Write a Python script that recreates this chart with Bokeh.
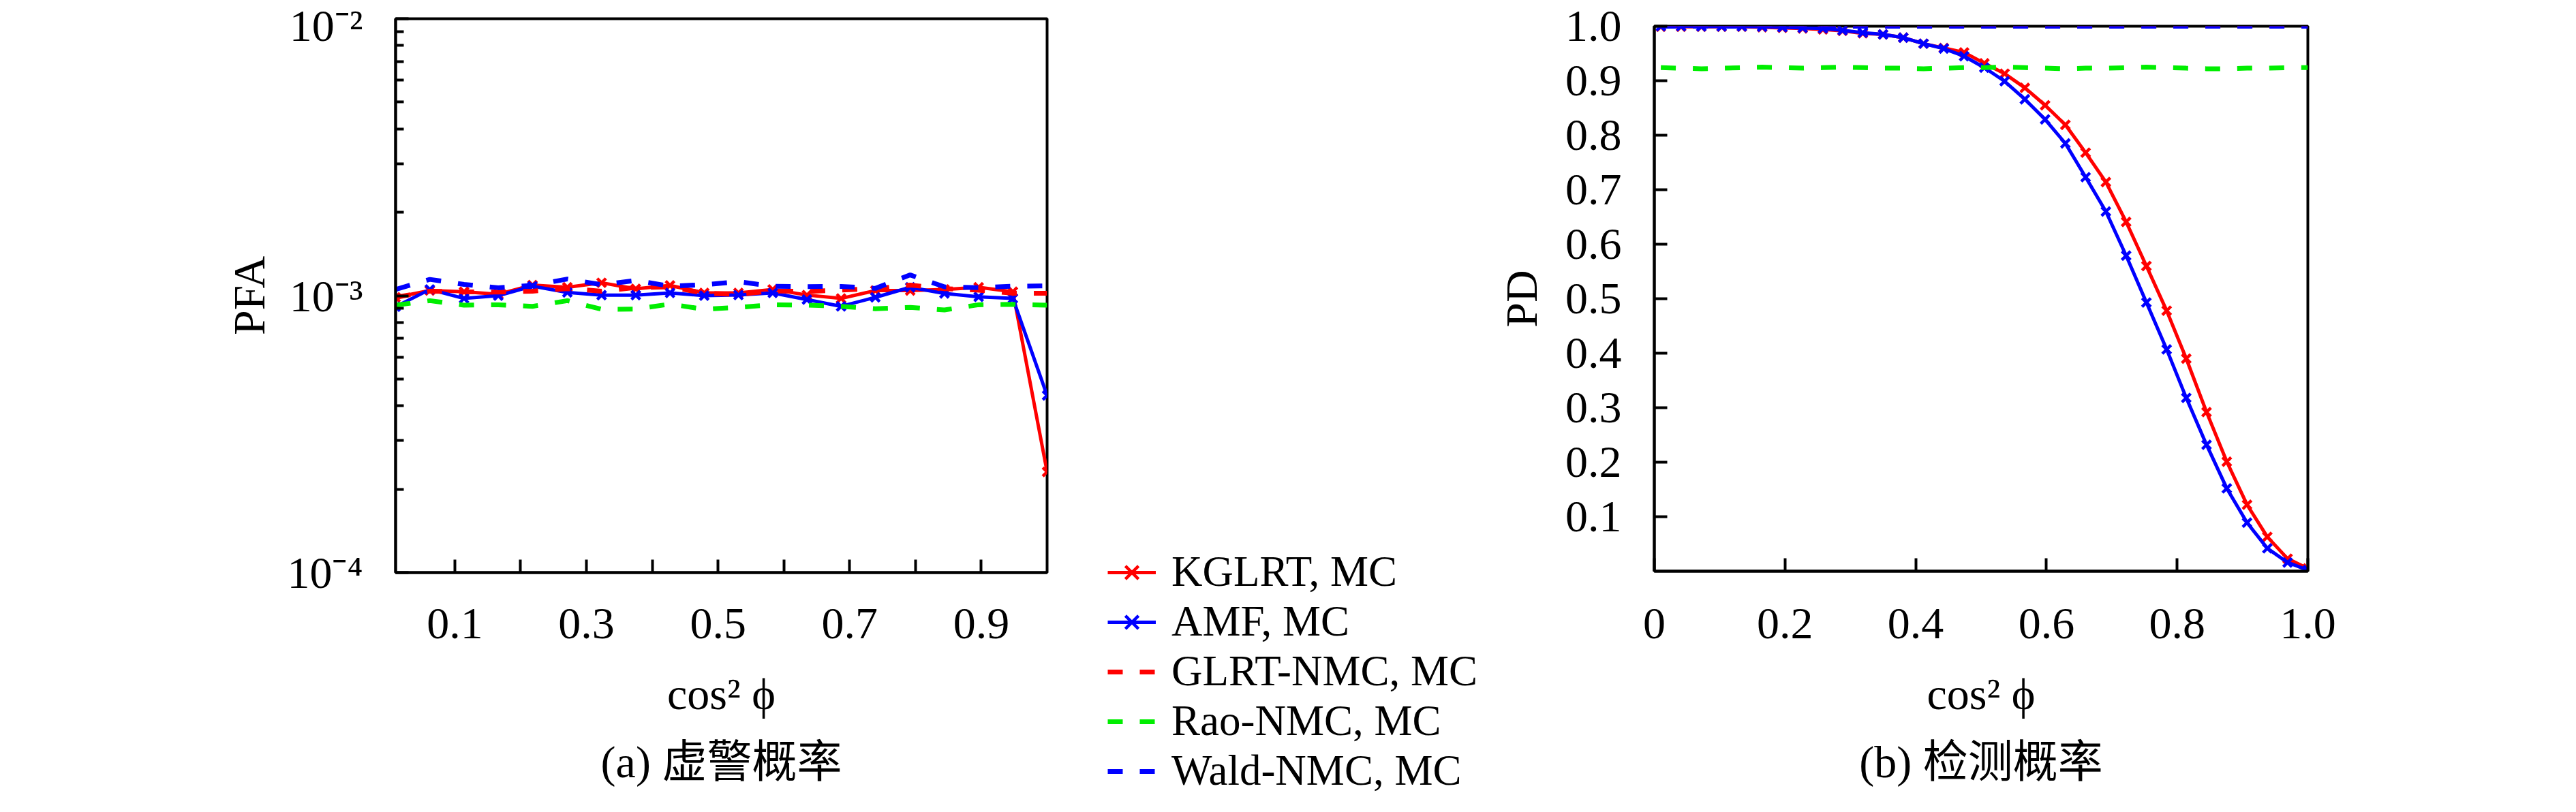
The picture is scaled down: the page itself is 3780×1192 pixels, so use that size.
from bokeh.plotting import figure
from bokeh.models import Range1d, FixedTicker, Legend, LegendItem, Title
from bokeh.layouts import row, column
from bokeh.embed import file_html
from bokeh.resources import INLINE

# ---------------- data ----------------
# (a) false alarm probability
x_pfa = [0.010, 0.062, 0.114, 0.166, 0.218, 0.271, 0.323, 0.375, 0.427, 0.479,
         0.531, 0.583, 0.635, 0.687, 0.739, 0.792, 0.844, 0.896, 0.948, 1.000]
pfa_kglrt = [0.986, 1.043, 1.033, 1.012, 1.092, 1.072, 1.113, 1.058, 1.089, 1.023,
             1.023, 1.053, 1.005, 0.977, 1.043, 1.043, 1.053, 1.072, 1.033, 0.231]
pfa_amf = [0.912, 1.053, 0.977, 1.000, 1.082, 1.027, 1.004, 1.004, 1.023, 1.000,
           1.005, 1.023, 0.968, 0.915, 0.986, 1.072, 1.018, 0.990, 0.977, 0.436]
pfa_glrt_nmc = [0.986, 1.038, 1.033, 1.030, 1.038, 1.060, 1.038, 1.070, 1.075, 1.020,
                1.010, 1.040, 1.035, 1.047, 1.060, 1.092, 1.060, 1.047, 1.020, 1.020]
pfa_rao_nmc = [0.924, 0.959, 0.924, 0.927, 0.915, 0.959, 0.893, 0.894, 0.932, 0.893,
               0.907, 0.927, 0.924, 0.915, 0.897, 0.907, 0.888, 0.927, 0.930, 0.924]
pfa_wald_nmc = [1.053, 1.145, 1.098, 1.068, 1.089, 1.148, 1.095, 1.134, 1.082, 1.095,
                1.123, 1.082, 1.078, 1.080, 1.062, 1.188, 1.076, 1.069, 1.082, 1.085]
pfa_scale = 1e-3

# (b) detection probability
x_pd = [0.010, 0.041, 0.072, 0.103, 0.134, 0.165, 0.196, 0.227, 0.258, 0.288, 0.319,
        0.350, 0.381, 0.412, 0.443, 0.474, 0.505, 0.536, 0.567, 0.598, 0.629, 0.660,
        0.691, 0.722, 0.753, 0.784, 0.814, 0.845, 0.876, 0.907, 0.938, 0.969, 1.000]
pd_kglrt = [0.999, 0.999, 0.999, 0.999, 0.999, 0.998, 0.997, 0.996, 0.994, 0.9915, 0.987,
            0.985, 0.979, 0.968, 0.960, 0.952, 0.932, 0.913, 0.887, 0.855, 0.819, 0.768,
            0.714, 0.641, 0.560, 0.478, 0.390, 0.292, 0.201, 0.122, 0.063, 0.023, 0.005]
pd_amf = [1.000, 1.000, 0.9995, 0.9995, 0.9995, 0.999, 0.998, 0.997, 0.996, 0.9925, 0.988,
          0.985, 0.979, 0.968, 0.959, 0.945, 0.924, 0.899, 0.866, 0.829, 0.785, 0.723,
          0.660, 0.579, 0.493, 0.407, 0.318, 0.232, 0.152, 0.089, 0.042, 0.016, 0.002]
pd_glrt_nmc = [1.0] * 33
pd_rao_nmc = [0.924, 0.923, 0.922, 0.923, 0.924, 0.925, 0.924, 0.923, 0.924, 0.925, 0.924,
              0.923, 0.923, 0.922, 0.923, 0.924, 0.924, 0.925, 0.924, 0.923, 0.922, 0.923,
              0.923, 0.924, 0.925, 0.924, 0.923, 0.922, 0.922, 0.923, 0.923, 0.924, 0.924]
pd_wald_nmc = [1.0] * 33

legend_labels = ["KGLRT, MC", "AMF, MC", "GLRT-NMC, MC", "Rao-NMC, MC", "Wald-NMC, MC"]

pfa_ticks = [1e-4, 1e-3, 1e-2]
pfa_tick_labels = ["10⁻⁴", "10⁻³", "10⁻²"]
pfa_minor = [2e-4, 3e-4, 4e-4, 5e-4, 6e-4, 7e-4, 8e-4, 9e-4,
             2e-3, 3e-3, 4e-3, 5e-3, 6e-3, 7e-3, 8e-3, 9e-3]
xa_ticks = [0.1, 0.2, 0.3, 0.4, 0.5, 0.6, 0.7, 0.8, 0.9]
xa_labels = ["0.1", "", "0.3", "", "0.5", "", "0.7", "", "0.9"]
xb_ticks = [0.0, 0.2, 0.4, 0.6, 0.8, 1.0]
xb_labels = ["0", "0.2", "0.4", "0.6", "0.8", "1.0"]
yb_ticks = [0.1, 0.2, 0.3, 0.4, 0.5, 0.6, 0.7, 0.8, 0.9, 1.0]
yb_labels = ["0.1", "0.2", "0.3", "0.4", "0.5", "0.6", "0.7", "0.8", "0.9", "1.0"]

# ---------------- style ----------------
FONT = "Liberation Serif, Noto Sans CJK SC"
FS = "66px"
RED, BLUE, GREEN = "#ff0000", "#0000ff", "#00ee00"
DASH = "22 25"
SOLID_W, DASH_W, MK_SIZE, MK_W = 5, 7, 18, 4.5


def style_axes(p):
    p.outline_line_color = "black"
    p.outline_line_width = 4
    p.xgrid.visible = False
    p.ygrid.visible = False
    for ax in (p.xaxis[0], p.yaxis[0]):
        ax.axis_line_width = 4
        ax.major_tick_line_width = 4
        ax.minor_tick_line_width = 4
        ax.major_tick_in = 19
        ax.major_tick_out = 0
        ax.minor_tick_in = 12
        ax.minor_tick_out = 0
        ax.major_label_text_font = FONT
        ax.major_label_text_font_size = FS
        ax.major_label_text_color = "black"
        ax.axis_label_text_font = FONT
        ax.axis_label_text_font_size = FS
        ax.axis_label_text_font_style = "normal"
        ax.axis_label_text_color = "black"


def add_series(p, x, k, a, g, r, w):
    lk = p.line(x, k, line_color=RED, line_width=SOLID_W)
    sk = p.scatter(x, k, marker="x", size=MK_SIZE, line_color=RED, line_width=MK_W)
    la = p.line(x, a, line_color=BLUE, line_width=SOLID_W)
    sa = p.scatter(x, a, marker="x", size=MK_SIZE, line_color=BLUE, line_width=MK_W)
    lg = p.line(x, g, line_color=RED, line_width=DASH_W, line_dash=DASH)
    lr = p.line(x, r, line_color=GREEN, line_width=DASH_W, line_dash=DASH)
    lw = p.line(x, w, line_color=BLUE, line_width=DASH_W, line_dash=DASH)
    return [[lk, sk], [la, sa], [lg], [lr], [lw]]


def caption(text):
    return Title(text=text, align="center", text_font=FONT, text_font_size=FS,
                 text_font_style="normal", text_color="black", standoff=44)


# ---------------- (a) PFA ----------------
pA = figure(width=1617, height=1176, x_range=Range1d(0.01, 1.0),
            y_range=Range1d(1e-4, 1e-2), y_axis_type="log",
            output_backend="svg", toolbar_location=None,
            min_border_left=580, min_border_right=81,
            min_border_top=27, min_border_bottom=324)
style_axes(pA)
pA.xaxis.ticker = FixedTicker(ticks=xa_ticks)
pA.xaxis.major_label_overrides = dict(zip(xa_ticks, xa_labels))
pA.xaxis.axis_label = "cos² ϕ"
pA.xaxis.major_label_standoff = 53
pA.xaxis.axis_label_standoff = 42
pA.yaxis.ticker = FixedTicker(ticks=pfa_ticks, minor_ticks=pfa_minor)
pA.yaxis.major_label_overrides = dict(zip(pfa_ticks, pfa_tick_labels))
pA.yaxis.axis_label = "PFA"
pA.yaxis.major_label_standoff = 48
pA.yaxis.axis_label_standoff = 16

add_series(pA, x_pfa,
           [v * pfa_scale for v in pfa_kglrt],
           [v * pfa_scale for v in pfa_amf],
           [v * pfa_scale for v in pfa_glrt_nmc],
           [v * pfa_scale for v in pfa_rao_nmc],
           [v * pfa_scale for v in pfa_wald_nmc])

pA.add_layout(caption("(a) 虚警概率"), "below")

# ---------------- legend panel (between the two plots) ----------------
# The series are re-drawn here only as legend sources: the x range lies beyond the data,
# so nothing but the legend is visible in this panel.
pC = figure(width=575, height=1176, x_range=Range1d(2, 3), y_range=Range1d(2, 3),
            output_backend="svg", toolbar_location=None,
            x_axis_location=None, y_axis_location=None,
            min_border_left=0, min_border_right=0, min_border_top=0, min_border_bottom=0)
pC.outline_line_color = None
pC.xgrid.visible = False
pC.ygrid.visible = False
proxies = add_series(pC, x_pd, pd_kglrt, pd_amf, pd_glrt_nmc, pd_rao_nmc, pd_wald_nmc)
legend = Legend(
    items=[LegendItem(label=lab, renderers=rs) for lab, rs in zip(legend_labels, proxies)],
    location="bottom_left", orientation="vertical",
    glyph_width=71, glyph_height=68, label_height=68, label_standoff=23,
    spacing=0, padding=0, margin=8,
    label_text_font=FONT, label_text_font_size="63px", label_text_color="black",
    border_line_alpha=0, background_fill_alpha=0)
pC.add_layout(legend)

# ---------------- (b) PD ----------------
pB = figure(width=1568, height=1176, x_range=Range1d(0.0, 1.0), y_range=Range1d(0.0, 1.0),
            output_backend="svg", toolbar_location=None,
            min_border_left=233, min_border_right=374,
            min_border_top=38, min_border_bottom=329)
style_axes(pB)
pB.xaxis.ticker = FixedTicker(ticks=xb_ticks)
pB.xaxis.major_label_overrides = dict(zip(xb_ticks, xb_labels))
pB.xaxis.axis_label = "cos² ϕ"
pB.xaxis.major_label_standoff = 55
pB.xaxis.axis_label_standoff = 42
pB.yaxis.ticker = FixedTicker(ticks=yb_ticks)
pB.yaxis.major_label_overrides = dict(zip(yb_ticks, yb_labels))
pB.yaxis.axis_label = "PD"
pB.yaxis.major_label_standoff = 48
pB.yaxis.axis_label_standoff = 25

add_series(pB, x_pd, pd_kglrt, pd_amf, pd_glrt_nmc, pd_rao_nmc, pd_wald_nmc)

pB.add_layout(caption("(b) 检测概率"), "below")

layout = row(pA, column(pC), column(pB))
open("out.html", "w").write(file_html(layout, INLINE))
